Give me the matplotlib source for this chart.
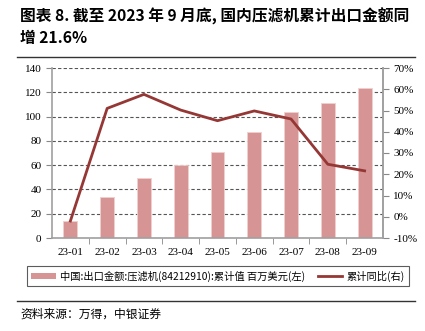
import matplotlib
matplotlib.use("Agg")
import matplotlib.pyplot as plt
from matplotlib.lines import Line2D
from matplotlib.patches import Patch

months = ["23-01", "23-02", "23-03", "23-04", "23-05", "23-06", "23-07", "23-08", "23-09"]
export_value = [14, 33.8, 49.7, 60.1, 70.6, 87, 104, 111, 123.8]   # 百万美元
yoy_growth = [-2, 51, 57.6, 50.2, 45.2, 49.8, 46, 24.7, 21.6]     # %

bar_color = "#d79494"
line_color = "#953735"
serif = ["Liberation Serif", "DejaVu Serif"]
cjk = ["Noto Sans CJK SC", "DejaVu Sans"]

fig = plt.figure(figsize=(4.25, 3.31), dpi=100)
ax = fig.add_axes([52 / 425, 1 - 238 / 331, 331 / 425, 170 / 331])

x = range(len(months))
ax.bar(x, export_value, width=0.38, color=bar_color, edgecolor="#f0d0d0",
       linewidth=0.6, zorder=2)
ax.set_xlim(-0.5, len(months) - 0.5)
ax.set_ylim(0, 140)
ax.set_yticks(range(0, 141, 20))
ax.grid(axis="y", linestyle=(0, (3, 2)), color="#555555", linewidth=0.8, zorder=0)
ax.set_axisbelow(True)

ax.set_xticks(list(x))
ax.set_xticklabels(months, fontfamily=serif, fontsize=8)
ax.set_xticks([i + 0.5 for i in range(len(months) - 1)], minor=True)
ax.tick_params(axis="x", which="major", length=0, pad=7)
ax.tick_params(axis="x", which="minor", length=4, color="#888888", direction="out")
ax.tick_params(axis="y", length=4, color="#888888", labelsize=8)
for lab in ax.get_yticklabels():
    lab.set_fontfamily(serif)

for side in ["left", "bottom", "right"]:
    ax.spines[side].set_color("#a0a0a0")
    ax.spines[side].set_linewidth(1.2)
ax.spines["top"].set_visible(False)

ax2 = ax.twinx()
ax2.plot(x, yoy_growth, color=line_color, linewidth=2, zorder=3)
ax2.set_ylim(-10, 70)
ax2.set_yticks(range(-10, 71, 10))
ax2.set_yticklabels([f"{v}%" for v in range(-10, 71, 10)], fontfamily=serif, fontsize=8)
ax2.tick_params(axis="y", length=4, color="#888888")
for side in ["left", "bottom", "top"]:
    ax2.spines[side].set_visible(False)
ax2.spines["right"].set_color("#a0a0a0")
ax2.spines["right"].set_linewidth(1.2)

handles = [Patch(facecolor=bar_color, edgecolor="none"),
           Line2D([0], [0], color=line_color, linewidth=2)]
labels = ["中国:出口金额:压滤机(84212910):累计值 百万美元(左)", "累计同比(右)"]
leg = fig.legend(handles, labels, loc="center", bbox_to_anchor=(218 / 425, 1 - 276 / 331),
                 ncol=2, frameon=True, fancybox=False, edgecolor="#333333",
                 prop={"family": cjk, "size": 7.4}, handlelength=2.4, handleheight=0.6,
                 columnspacing=1.2, handletextpad=0.4, borderpad=0.4)
leg.get_frame().set_linewidth(0.8)

# 标题与来源
fig.text(20 / 425, 1 - 16 / 331, "图表 8. 截至 2023 年 9 月底, 国内压滤机累计出口金额同",
         fontfamily=cjk, fontsize=11.3, fontweight="bold", va="center", ha="left")
fig.text(20 / 425, 1 - 38 / 331, "增 21.6%", fontfamily=cjk, fontsize=11.3,
         fontweight="bold", va="center", ha="left")
fig.add_artist(Line2D([17 / 425, 415 / 425], [1 - 57 / 331, 1 - 57 / 331],
                      color="#333333", linewidth=1))
fig.add_artist(Line2D([17 / 425, 415 / 425], [1 - 301 / 331, 1 - 301 / 331],
                      color="#333333", linewidth=1))
fig.text(20 / 425, 1 - 314 / 331, "资料来源：万得，中银证券", fontfamily=cjk, fontsize=8.5,
         fontstyle="italic", va="center", ha="left")

fig.savefig("out.png", dpi=100)
